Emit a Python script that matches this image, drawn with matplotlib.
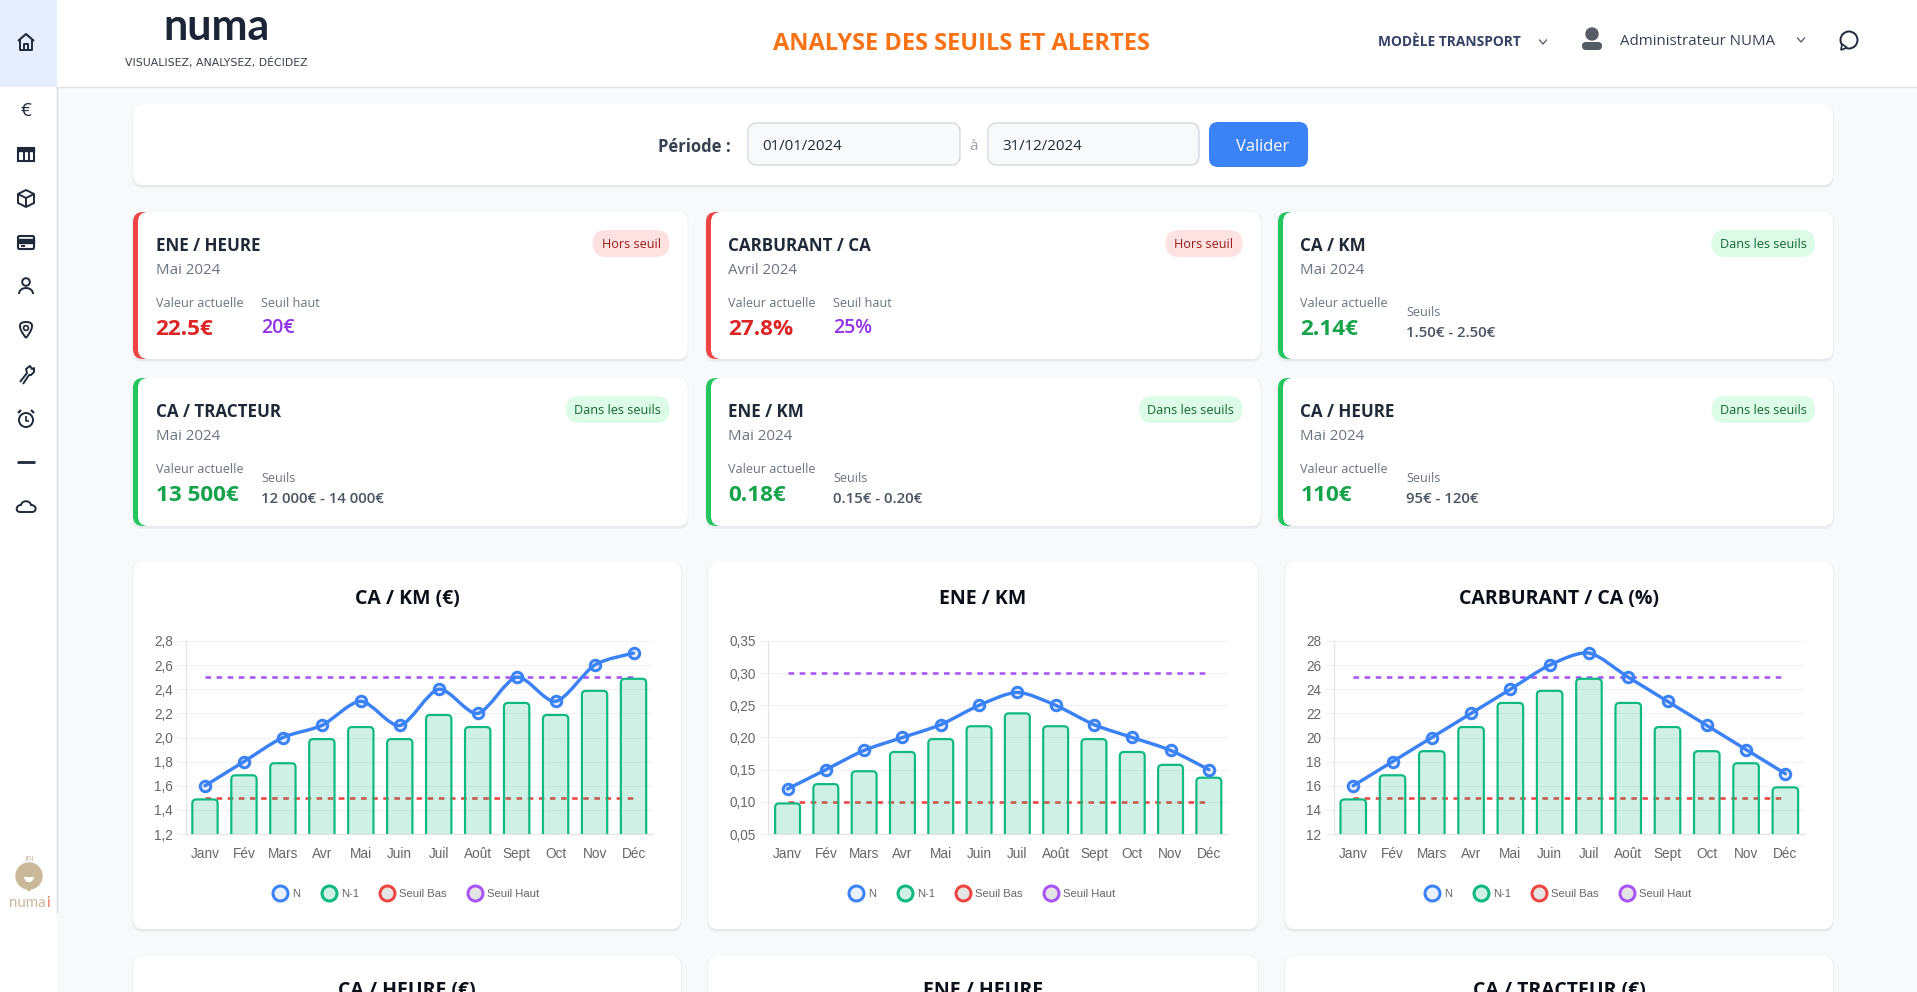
import matplotlib
matplotlib.use("Agg")
import matplotlib.pyplot as plt
from matplotlib.lines import Line2D
from matplotlib.patches import Circle, FancyBboxPatch, PathPatch, Polygon, Rectangle
from matplotlib.path import Path

W, H = 1917, 992

months = ["Janv", "Fév", "Mars", "Avr", "Mai", "Juin", "Juil", "Août", "Sept", "Oct", "Nov", "Déc"]

ca_km_n = [1.6, 1.8, 2.0, 2.1, 2.3, 2.1, 2.4, 2.2, 2.5, 2.3, 2.6, 2.7]
ca_km_n1 = [1.5, 1.7, 1.8, 2.0, 2.1, 2.0, 2.2, 2.1, 2.3, 2.2, 2.4, 2.5]
ca_km_low = [1.5] * 12
ca_km_high = [2.5] * 12
ca_km_ticks = [1.2, 1.4, 1.6, 1.8, 2.0, 2.2, 2.4, 2.6, 2.8]
ca_km_labels = ["1,2", "1,4", "1,6", "1,8", "2,0", "2,2", "2,4", "2,6", "2,8"]

ene_km_n = [0.12, 0.15, 0.18, 0.20, 0.22, 0.25, 0.27, 0.25, 0.22, 0.20, 0.18, 0.15]
ene_km_n1 = [0.10, 0.13, 0.15, 0.18, 0.20, 0.22, 0.24, 0.22, 0.20, 0.18, 0.16, 0.14]
ene_km_low = [0.10] * 12
ene_km_high = [0.30] * 12
ene_km_ticks = [0.05, 0.10, 0.15, 0.20, 0.25, 0.30, 0.35]
ene_km_labels = ["0,05", "0,10", "0,15", "0,20", "0,25", "0,30", "0,35"]

carb_n = [16, 18, 20, 22, 24, 26, 27, 25, 23, 21, 19, 17]
carb_n1 = [15, 17, 19, 21, 23, 24, 25, 23, 21, 19, 18, 16]
carb_low = [15] * 12
carb_high = [25] * 12
carb_ticks = [12, 14, 16, 18, 20, 22, 24, 26, 28]
carb_labels = ["12", "14", "16", "18", "20", "22", "24", "26", "28"]

BLUE = "#3b82f6"
GREEN = "#10b981"
RED = "#ef4444"
PURPLE = "#a855f7"
NAVY = "#1e293b"
TEXT_FONT = ["Open Sans", "DejaVu Sans"]
CHART_FONT = ["Liberation Sans", "DejaVu Sans"]

plt.rcParams["font.family"] = TEXT_FONT
plt.rcParams["lines.scale_dashes"] = False


def pt(px):
    return px * 0.72


fig = plt.figure(figsize=(W / 100, H / 100), dpi=100, facecolor="white")
bg = fig.add_axes([0, 0, 1, 1])
bg.set_xlim(0, W)
bg.set_ylim(H, 0)
bg.axis("off")


def box(x0, y0, x1, y1, color, radius=10, edge="none", lw=0, z=1):
    p = FancyBboxPatch((x0, y0), x1 - x0, y1 - y0, boxstyle=f"round,pad=0,rounding_size={radius}",
                       facecolor=color, edgecolor=edge, linewidth=lw, zorder=z)
    bg.add_patch(p)
    return p


def card(x0, y0, x1, y1, radius=10):
    # faint css shadow
    box(x0 - 1, y0, x1 + 1, y1 + 3, "#eef0f3", radius, z=1)
    box(x0, y0, x1, y1 + 1.5, "#e6e8ec", radius, z=1.1)
    box(x0, y0, x1, y1, "white", radius, z=1.2)


def label(x, y, s, px, color, weight="normal", ha="left", family=None, z=5):
    # open sans sits a bit high when centered, hence the small offset
    return bg.text(x, y + 1.8, s, fontsize=pt(px), color=color, fontweight=weight, ha=ha, va="center",
                   family=family or TEXT_FONT, zorder=z)


# page background, header, sidebar
bg.add_patch(Rectangle((57, 87), W - 57, H - 87, facecolor="#f8f9fb", zorder=0))
bg.add_patch(Rectangle((0, 0), 57, 87, facecolor="#e6edfc", zorder=0.5))
bg.plot([57, W], [87, 87], color="#e3e5e9", lw=1, zorder=0.6)
bg.plot([57, 57], [87, 912], color="#d9dbe1", lw=1, zorder=0.6)

# logo
label(216, 25, "numa", 43, "#1c2438", "bold", "center", ["Lato", "DejaVu Sans"])
label(216, 60.5, "VISUALISEZ, ANALYSEZ, DÉCIDEZ", 10.9, "#3a3f4b", "normal", "center", ["DejaVu Sans"])

label(961, 42, "ANALYSE DES SEUILS ET ALERTES", 23.6, "#f97316", "bold", "center")
label(1378, 40, "MODÈLE TRANSPORT", 13.8, "#334166", "bold")
label(1620, 39.5, "Administrateur NUMA", 15, "#374151")


def chevron(x, y):
    bg.plot([x - 3.5, x, x + 3.5], [y - 2, y + 2, y - 2], color="#4b5563", lw=0.9, zorder=5)


chevron(1543, 42)
chevron(1801, 40)

# user + chat icons
bg.add_patch(Circle((1592, 34), 6, color="#555b63", zorder=5))
bg.add_patch(FancyBboxPatch((1582, 42), 20, 8, boxstyle="round,pad=0,rounding_size=4", facecolor="#555b63",
                            edgecolor="none", zorder=5))
bg.add_patch(Circle((1849, 40), 8.5, facecolor="white", edgecolor="#1e293b", lw=1.4, zorder=5))
bg.add_patch(Polygon([[1842, 44], [1841, 50], [1847, 47.5]], facecolor="white", edgecolor="#1e293b", lw=1.2, zorder=6))


# sidebar icons, drawn by hand
def outline(points, closed=False, lw=1.4, z=5):
    bg.add_patch(Polygon(points, closed=closed, fill=False, edgecolor=NAVY, lw=lw, zorder=z, joinstyle="round"))


outline([[18, 41], [26, 34], [34, 41]], lw=1.5)
outline([[20, 40], [20, 50], [32, 50], [32, 40]])
outline([[24, 50], [24, 44], [28, 44], [28, 50]])
label(26, 109, "€", 19, NAVY, "normal", "center")
bg.add_patch(Rectangle((18, 148), 16, 13, fill=False, edgecolor=NAVY, lw=1.5, zorder=5))
bg.add_patch(Rectangle((18, 148), 16, 3, color=NAVY, zorder=5))
outline([[23.5, 150], [23.5, 161]])
outline([[28.5, 150], [28.5, 161]])
outline([[26, 190], [34, 194], [34, 203], [26, 207], [18, 203], [18, 194]], True)
outline([[18, 194], [26, 198], [34, 194]])
outline([[26, 198], [26, 207]])
bg.add_patch(FancyBboxPatch((18, 236), 16, 13, boxstyle="round,pad=0,rounding_size=1.5", fill=False,
                            edgecolor=NAVY, lw=1.5, zorder=5))
bg.add_patch(Rectangle((18, 239), 16, 3.5, color=NAVY, zorder=5))
outline([[21, 246], [25, 246]])
bg.add_patch(Circle((26, 282), 3.8, fill=False, edgecolor=NAVY, lw=1.4, zorder=5))
bg.add_patch(PathPatch(Path([(19, 294), (19, 286), (33, 286), (33, 294)], [Path.MOVETO, Path.CURVE4, Path.CURVE4, Path.CURVE4]),
                       fill=False, edgecolor=NAVY, lw=1.4, zorder=5))
bg.add_patch(PathPatch(Path([(26, 338), (16, 325), (20, 322), (26, 322), (32, 322), (36, 325), (26, 338)],
                            [Path.MOVETO, Path.CURVE4, Path.CURVE4, Path.CURVE4, Path.CURVE4, Path.CURVE4, Path.CURVE4]),
                       fill=False, edgecolor=NAVY, lw=1.4, zorder=5))
bg.add_patch(Circle((26, 328), 2.4, fill=False, edgecolor=NAVY, lw=1.2, zorder=5))
outline([[20, 382], [27, 373], [26, 369], [30, 366], [32, 369], [34, 368], [34, 372], [31, 375], [29, 375], [23, 384], [20, 382]])
bg.add_patch(Circle((26, 420), 7, fill=False, edgecolor=NAVY, lw=1.4, zorder=5))
outline([[26, 416], [26, 421], [29, 421]], lw=1.2)
outline([[18, 413], [21, 410]], lw=1.6)
outline([[34, 413], [31, 410]], lw=1.6)
outline([[17, 462], [35, 462]], lw=2)
bg.add_patch(PathPatch(Path([(20, 512), (15, 512), (16, 505), (21, 505), (22, 500), (30, 500), (31, 505), (37, 505), (37, 512), (32, 512), (20, 512)],
                            [Path.MOVETO, Path.CURVE4, Path.CURVE4, Path.CURVE4, Path.CURVE4, Path.CURVE4, Path.CURVE4, Path.CURVE4, Path.CURVE4, Path.CURVE4, Path.LINETO]),
                       fill=False, edgecolor=NAVY, lw=1.4, zorder=5))

# numai badge
bg.add_patch(Circle((29, 876), 13, color="#c9b99a", zorder=5))
bg.add_patch(Polygon([[25, 886], [33, 886], [29, 891]], color="#c9b99a", zorder=5))
bg.add_patch(PathPatch(Path([(24, 877), (25, 884), (33, 884), (34, 877), (24, 877)],
                            [Path.MOVETO, Path.CURVE4, Path.CURVE4, Path.CURVE4, Path.CLOSEPOLY]),
                       facecolor="white", edgecolor="none", zorder=6))
label(29, 857, "ını", 8, "#c9b99a", "normal", "center", ["DejaVu Sans"])
label(27, 901.5, "numa", 15, "#c9b99a", "normal", "center", ["Lato", "DejaVu Sans"])
label(47.5, 901.5, "i", 15, "#e2795a", "normal", "center", ["Lato", "DejaVu Sans"])

# period filter
card(133, 104, 1833, 185)
label(658, 145, "Période :", 16.6, "#374151", "bold")
box(748, 123, 960, 165, "#f8f9fb", 9, "#d8dbe1", 1.1, 3)
box(988, 123, 1199, 165, "#f8f9fb", 9, "#d8dbe1", 1.1, 3)
label(762, 144.5, "01/01/2024", 15, "#1f2937")
label(1002, 144.5, "31/12/2024", 15, "#1f2937")
label(973, 145, "à", 15, "#9ca3af", "normal", "center")
box(1209, 122, 1308, 167, BLUE, 9, z=3)
label(1263, 145.5, "Valider", 16.5, "white", "normal", "center")

# kpi cards: x0, x1, title, period, value, label, threshold, in_range
kpi_x = [(133, 687.5), (706, 1260.5), (1278, 1833)]
kpi_y = [(212, 359), (378, 526)]
kpi_titles = [["ENE / HEURE", "CARBURANT / CA", "CA / KM"], ["CA / TRACTEUR", "ENE / KM", "CA / HEURE"]]
kpi_periods = [["Mai 2024", "Avril 2024", "Mai 2024"], ["Mai 2024", "Mai 2024", "Mai 2024"]]
kpi_values = [["22.5€", "27.8%", "2.14€"], ["13 500€", "0.18€", "110€"]]
kpi_limits = [["20€", "25%", "1.50€ - 2.50€"], ["12 000€ - 14 000€", "0.15€ - 0.20€", "95€ - 120€"]]
kpi_ok = [[False, False, True], [True, True, True]]
kpi_limit_x = [261, 833, 1406]

for r, (y0, y1) in enumerate(kpi_y):
    for c, (x0, x1) in enumerate(kpi_x):
        ok = kpi_ok[r][c]
        card(x0, y0, x1, y1)
        box(x0, y0, x0 + 30, y1, "#22c55e" if ok else RED, 10, z=1.3)
        box(x0 + 5, y0, x1, y1, "white", 10, z=1.4)
        tx = x0 + 22.5
        label(tx, y0 + 32, kpi_titles[r][c], 17, "#1f2937", "bold")
        label(tx, y0 + 57, kpi_periods[r][c], 15, "#6b7280")
        label(tx, y0 + 89.5, "Valeur actuelle", 12.6, "#6b7280")
        label(tx, y0 + 115.5, kpi_values[r][c], 22.5, "#16a34a" if ok else "#dc2626", "bold")
        lx = kpi_limit_x[c]
        if ok:
            label(lx, y0 + 98.5, "Seuils", 12.6, "#6b7280")
            label(lx, y0 + 119.5, kpi_limits[r][c], 15, "#4b5563", "semibold")
            bw = 103.5
        else:
            label(lx, y0 + 89.5, "Seuil haut", 12.6, "#6b7280")
            label(lx, y0 + 114, kpi_limits[r][c], 19.5, "#9333ea", "semibold")
            bw = 77
        bx1 = x1 - 18
        box(bx1 - bw, y0 + 18, bx1, y0 + 45, "#dcfce7" if ok else "#fee2e2", 13.5, z=3)
        label(bx1 - bw / 2, y0 + 31, "Dans les seuils" if ok else "Hors seuil", 12.6,
              "#166534" if ok else "#991b1b", "normal", "center")


def rounded_top(x, w, top, bottom, rx, ry):
    verts = [(x, bottom), (x, top - ry), (x, top), (x + rx, top), (x + w - rx, top), (x + w, top), (x + w, top - ry), (x + w, bottom)]
    codes = [Path.MOVETO, Path.LINETO, Path.CURVE3, Path.CURVE3, Path.LINETO, Path.CURVE3, Path.CURVE3, Path.LINETO]
    return Path(verts, codes)


def smooth_line(xs, ys, t=0.14):
    # same kind of slight bezier smoothing the chart lib does
    verts = [(xs[0], ys[0])]
    codes = [Path.MOVETO]
    n = len(xs)
    for i in range(n - 1):
        prev = max(i - 1, 0)
        nxt = min(i + 2, n - 1)
        verts.append((xs[i] + t * (xs[i + 1] - xs[prev]), ys[i] + t * (ys[i + 1] - ys[prev])))
        verts.append((xs[i + 1] - t * (xs[nxt] - xs[i]), ys[i + 1] - t * (ys[nxt] - ys[i])))
        verts.append((xs[i + 1], ys[i + 1]))
        codes += [Path.CURVE4, Path.CURVE4, Path.CURVE4]
    return Path(verts, codes)


def draw_chart(px_left, px_right, center, title, n, n1, low, high, ticks, tick_labels):
    px_top, px_bottom = 641, 834
    ax = fig.add_axes([px_left / W, 1 - px_bottom / H, (px_right - px_left) / W, (px_bottom - px_top) / H])
    ax.patch.set_alpha(0)
    x = list(range(len(months)))
    ax.set_xlim(-0.5, 11.5)
    ax.set_ylim(ticks[0], ticks[-1])
    ax.set_yticks(ticks, tick_labels, family=CHART_FONT)
    ax.set_xticks(x, months, family=CHART_FONT)
    ax.tick_params(axis="y", length=pt(8), width=0.8, color="#eeeeee", pad=pt(4.5), labelsize=pt(13.6), labelcolor="#666666")
    ax.tick_params(axis="x", length=0, pad=pt(13), labelsize=pt(13.6), labelcolor="#666666")
    ax.grid(axis="y", color="#f2f2f2", lw=0.8, zorder=1)
    ax.set_axisbelow(True)
    for s in ["top", "right"]:
        ax.spines[s].set_visible(False)
    for s in ["left", "bottom"]:
        ax.spines[s].set_color("#e4e4e4")
        ax.spines[s].set_linewidth(0.9)

    ax.plot(x, low, color=RED, lw=pt(2.6), ls=(0, (4, 4)), zorder=2)
    ax.plot(x, high, color=PURPLE, lw=pt(2.6), ls=(0, (4, 4)), zorder=2)

    # bars with rounded top, skipped bottom border
    rx = 4 * 12 / (px_right - px_left)
    ry = 4 * (ticks[-1] - ticks[0]) / (px_bottom - px_top)
    bars = ax.bar(x, n1, width=0.65, bottom=0, visible=False)
    for b in bars:
        path = rounded_top(b.get_x(), b.get_width(), b.get_height() - ry * 0.4, ticks[0], rx, ry)
        ax.add_patch(PathPatch(path, facecolor=(16 / 255, 185 / 255, 129 / 255, 0.2), edgecolor=GREEN, lw=pt(2.2), zorder=3))

    ax.add_patch(PathPatch(smooth_line(x, n), fill=False, edgecolor=BLUE, lw=pt(3.4), zorder=4, capstyle="round"))
    ax.plot(x, n, ls="none", marker="o", ms=pt(10.5), mew=pt(3), mec=BLUE, mfc=(59 / 255, 130 / 255, 246 / 255, 0.12),
            zorder=5, clip_on=False)

    handles = [
        Line2D([], [], ls="none", marker="o", ms=pt(15), mew=pt(3), mec=BLUE, mfc="#ebf2fe", label="N"),
        Line2D([], [], ls="none", marker="o", ms=pt(15), mew=pt(3), mec=GREEN, mfc="#cff1e6", label="N-1"),
        Line2D([], [], ls="none", marker="o", ms=pt(15), mew=pt(3), mec=RED, mfc="#e5e5e5", label="Seuil Bas"),
        Line2D([], [], ls="none", marker="o", ms=pt(15), mew=pt(3), mec=PURPLE, mfc="#e5e5e5", label="Seuil Haut"),
    ]
    fig.legend(handles=handles, loc="center", bbox_to_anchor=(center / W, 1 - 894 / H), ncol=4, frameon=False,
               prop={"family": CHART_FONT, "size": pt(11.3)}, labelcolor="#666666", handlelength=1.0,
               handletextpad=0.56, columnspacing=2.0, borderpad=0)

    label(center, 597, title, 19.5, "#0b0f19", "bold", "center")


# chart cards
card(133, 562, 681, 929)
card(708, 562, 1258, 929)
card(1285, 562, 1833, 929)
card(133, 956, 681, 1020)
card(708, 956, 1258, 1020)
card(1285, 956, 1833, 1020)

draw_chart(185.5, 653, 407, "CA / KM (€)", ca_km_n, ca_km_n1, ca_km_low, ca_km_high, ca_km_ticks, ca_km_labels)
draw_chart(768.4, 1228, 983, "ENE / KM", ene_km_n, ene_km_n1, ene_km_low, ene_km_high, ene_km_ticks, ene_km_labels)
draw_chart(1333.6, 1805, 1559, "CARBURANT / CA (%)", carb_n, carb_n1, carb_low, carb_high, carb_ticks, carb_labels)

label(407, 989, "CA / HEURE (€)", 19.5, "#0b0f19", "bold", "center")
label(983, 989, "ENE / HEURE", 19.5, "#0b0f19", "bold", "center")
label(1559, 989, "CA / TRACTEUR (€)", 19.5, "#0b0f19", "bold", "center")

fig.savefig("out.png", dpi=100)
